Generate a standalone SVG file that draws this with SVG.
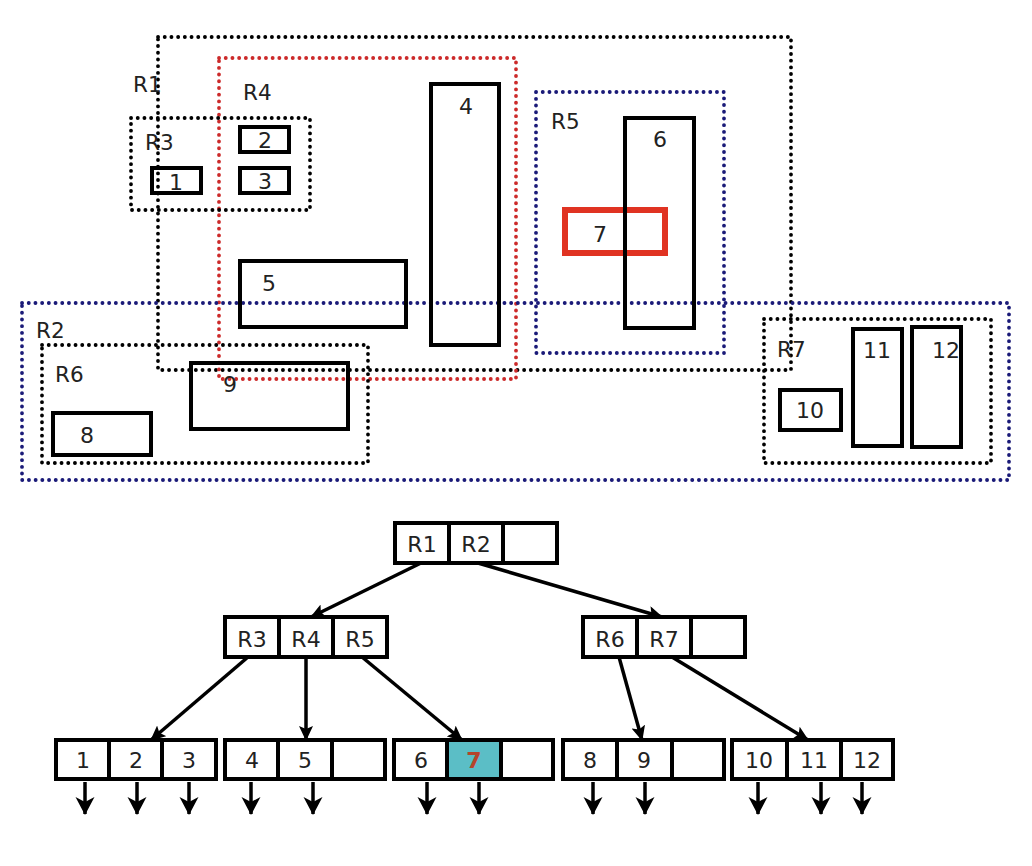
<svg xmlns="http://www.w3.org/2000/svg" width="1032" height="866" viewBox="0 0 1032 866">
<defs>
<style>
.dk{fill:none;stroke:#000;stroke-width:3.8;stroke-linecap:round;stroke-dasharray:0.1 6.6}
.db{fill:none;stroke:#1a1a78;stroke-width:3.8;stroke-linecap:round;stroke-dasharray:0.1 6.6}
.dr{fill:none;stroke:#cc2a2a;stroke-width:3.8;stroke-linecap:round;stroke-dasharray:0.1 6.6}
.bx{fill:none;stroke:#000;stroke-width:4}
.cell{fill:#fff;stroke:#000;stroke-width:4}
.t{font-family:"DejaVu Sans",Verdana,sans-serif;font-size:21.5px;fill:#222}
.tc{font-family:"DejaVu Sans",Verdana,sans-serif;font-size:22px;fill:#222;text-anchor:middle}
.ed{stroke:#000;stroke-width:3.5;fill:none;marker-end:url(#ah)}
.pt{stroke:#000;stroke-width:3.5;fill:none;marker-end:url(#ah2)}
</style>
<marker id="ah" markerUnits="userSpaceOnUse" markerWidth="16" markerHeight="14" refX="14" refY="7" orient="auto">
<path d="M0,0 L15,7 L0,14 L3,7 z" fill="#000"/>
</marker>
<marker id="ah2" markerUnits="userSpaceOnUse" markerWidth="20" markerHeight="20" refX="17" refY="9.5" orient="auto">
<path d="M0,0 L18,9.5 L0,19 L5,9.5 z" fill="#000"/>
</marker>
</defs>
<rect width="1032" height="866" fill="#fff"/>

<g id="spatial">
<g id="R1"><rect class="dk" x="158" y="37" width="633" height="333"/><text class="t" x="133" y="92">R1</text></g>
<g id="R4"><rect class="dr" x="219" y="58" width="297" height="321"/><text class="t" x="243" y="100">R4</text></g>
<g id="R3"><rect class="dk" x="131" y="118" width="179" height="92"/><text class="t" x="145" y="150">R3</text></g>
<g id="R5"><rect class="db" x="536" y="92" width="188" height="261"/><text class="t" x="551" y="129">R5</text></g>
<g id="R2"><rect class="db" x="22" y="303" width="987" height="177"/><text class="t" x="36" y="338">R2</text></g>
<g id="R6"><rect class="dk" x="42" y="345" width="326" height="118"/><text class="t" x="55" y="382">R6</text></g>
<g id="R7"><rect class="dk" x="764" y="319" width="227" height="144"/><text class="t" x="777" y="357">R7</text></g>

<g id="obj1"><rect class="bx" x="152" y="168" width="49" height="25"/><text class="tc" x="176" y="190">1</text></g>
<g id="obj2"><rect class="bx" x="240" y="127" width="49" height="25"/><text class="tc" x="265" y="148">2</text></g>
<g id="obj3"><rect class="bx" x="240" y="168" width="49" height="25"/><text class="tc" x="265" y="189">3</text></g>
<g id="obj4"><rect class="bx" x="431" y="84" width="68" height="261"/><text class="tc" x="466" y="114">4</text></g>
<g id="obj5"><rect class="bx" x="240" y="261" width="166" height="66"/><text class="tc" x="269" y="291">5</text></g>
<g id="obj7"><rect x="565" y="210" width="100" height="43" fill="none" stroke="#e03322" stroke-width="6"/><text class="tc" x="600" y="242">7</text></g>
<g id="obj6"><rect class="bx" x="625" y="118" width="69" height="210"/><text class="tc" x="660" y="147">6</text></g>
<g id="obj8"><rect class="bx" x="53" y="413" width="98" height="42"/><text class="tc" x="87" y="443">8</text></g>
<g id="obj9"><rect class="bx" x="191" y="363" width="157" height="66"/><text class="tc" x="230" y="392">9</text></g>
<g id="obj10"><rect class="bx" x="780" y="390" width="61" height="40"/><text class="tc" x="810" y="418">10</text></g>
<g id="obj11"><rect class="bx" x="853" y="329" width="49" height="117"/><text class="tc" x="877" y="358">11</text></g>
<g id="obj12"><rect class="bx" x="912" y="327" width="49" height="120"/><text class="tc" x="946" y="358">12</text></g>
</g>

<g id="tree-connectors">
<line class="ed" x1="421" y1="563" x2="311" y2="617"/>
<line class="ed" x1="478" y1="563" x2="662" y2="617"/>
<line class="ed" x1="248" y1="657" x2="151" y2="740"/>
<line class="ed" x1="306" y1="657" x2="306" y2="740"/>
<line class="ed" x1="362" y1="657" x2="462" y2="740"/>
<line class="ed" x1="619" y1="657" x2="642" y2="740"/>
<line class="ed" x1="672" y1="657" x2="808" y2="740"/>
<line class="pt" x1="85" y1="782" x2="85" y2="814"/>
<line class="pt" x1="137" y1="782" x2="137" y2="814"/>
<line class="pt" x1="189" y1="782" x2="189" y2="814"/>
<line class="pt" x1="251" y1="782" x2="251" y2="814"/>
<line class="pt" x1="313" y1="782" x2="313" y2="814"/>
<line class="pt" x1="427" y1="782" x2="427" y2="814"/>
<line class="pt" x1="479" y1="782" x2="479" y2="814"/>
<line class="pt" x1="593" y1="782" x2="593" y2="814"/>
<line class="pt" x1="645" y1="782" x2="645" y2="814"/>
<line class="pt" x1="758" y1="782" x2="758" y2="814"/>
<line class="pt" x1="821" y1="782" x2="821" y2="814"/>
<line class="pt" x1="862" y1="782" x2="862" y2="814"/>
</g>

<g id="root">
<rect class="cell" x="395" y="523" width="54" height="40"/><rect class="cell" x="449" y="523" width="54" height="40"/><rect class="cell" x="503" y="523" width="54" height="40"/>
<text class="tc" x="422" y="552">R1</text><text class="tc" x="476" y="552">R2</text>
</g>
<g id="node-R1">
<rect class="cell" x="225" y="617" width="54" height="40"/><rect class="cell" x="279" y="617" width="54" height="40"/><rect class="cell" x="333" y="617" width="54" height="40"/>
<text class="tc" x="252" y="647">R3</text><text class="tc" x="306" y="647">R4</text><text class="tc" x="360" y="647">R5</text>
</g>
<g id="node-R2">
<rect class="cell" x="583" y="617" width="54" height="40"/><rect class="cell" x="637" y="617" width="54" height="40"/><rect class="cell" x="691" y="617" width="54" height="40"/>
<text class="tc" x="610" y="647">R6</text><text class="tc" x="664" y="647">R7</text>
</g>
<g id="leaf-R3">
<rect class="cell" x="56" y="740" width="53" height="39"/><rect class="cell" x="109" y="740" width="53" height="39"/><rect class="cell" x="162" y="740" width="54" height="39"/>
<text class="tc" x="83" y="768">1</text><text class="tc" x="136" y="768">2</text><text class="tc" x="189" y="768">3</text>
</g>
<g id="leaf-R4">
<rect class="cell" x="225" y="740" width="53" height="39"/><rect class="cell" x="278" y="740" width="54" height="39"/><rect class="cell" x="332" y="740" width="53" height="39"/>
<text class="tc" x="252" y="768">4</text><text class="tc" x="305" y="768">5</text>
</g>
<g id="leaf-R5">
<rect class="cell" x="394" y="740" width="53" height="39"/><rect x="447" y="740" width="54" height="39" fill="#5bbec6" stroke="#000" stroke-width="4"/><rect class="cell" x="501" y="740" width="52" height="39"/>
<text class="tc" x="421" y="768">6</text><text class="tc" x="474" y="768" style="font-weight:bold;fill:#b5452a">7</text>
</g>
<g id="leaf-R6">
<rect class="cell" x="563" y="740" width="54" height="39"/><rect class="cell" x="617" y="740" width="55" height="39"/><rect class="cell" x="672" y="740" width="52" height="39"/>
<text class="tc" x="590" y="768">8</text><text class="tc" x="644" y="768">9</text>
</g>
<g id="leaf-R7">
<rect class="cell" x="732" y="740" width="55" height="39"/><rect class="cell" x="787" y="740" width="54" height="39"/><rect class="cell" x="841" y="740" width="52" height="39"/>
<text class="tc" x="759" y="768">10</text><text class="tc" x="814" y="768">11</text><text class="tc" x="867" y="768">12</text>
</g>
</svg>
